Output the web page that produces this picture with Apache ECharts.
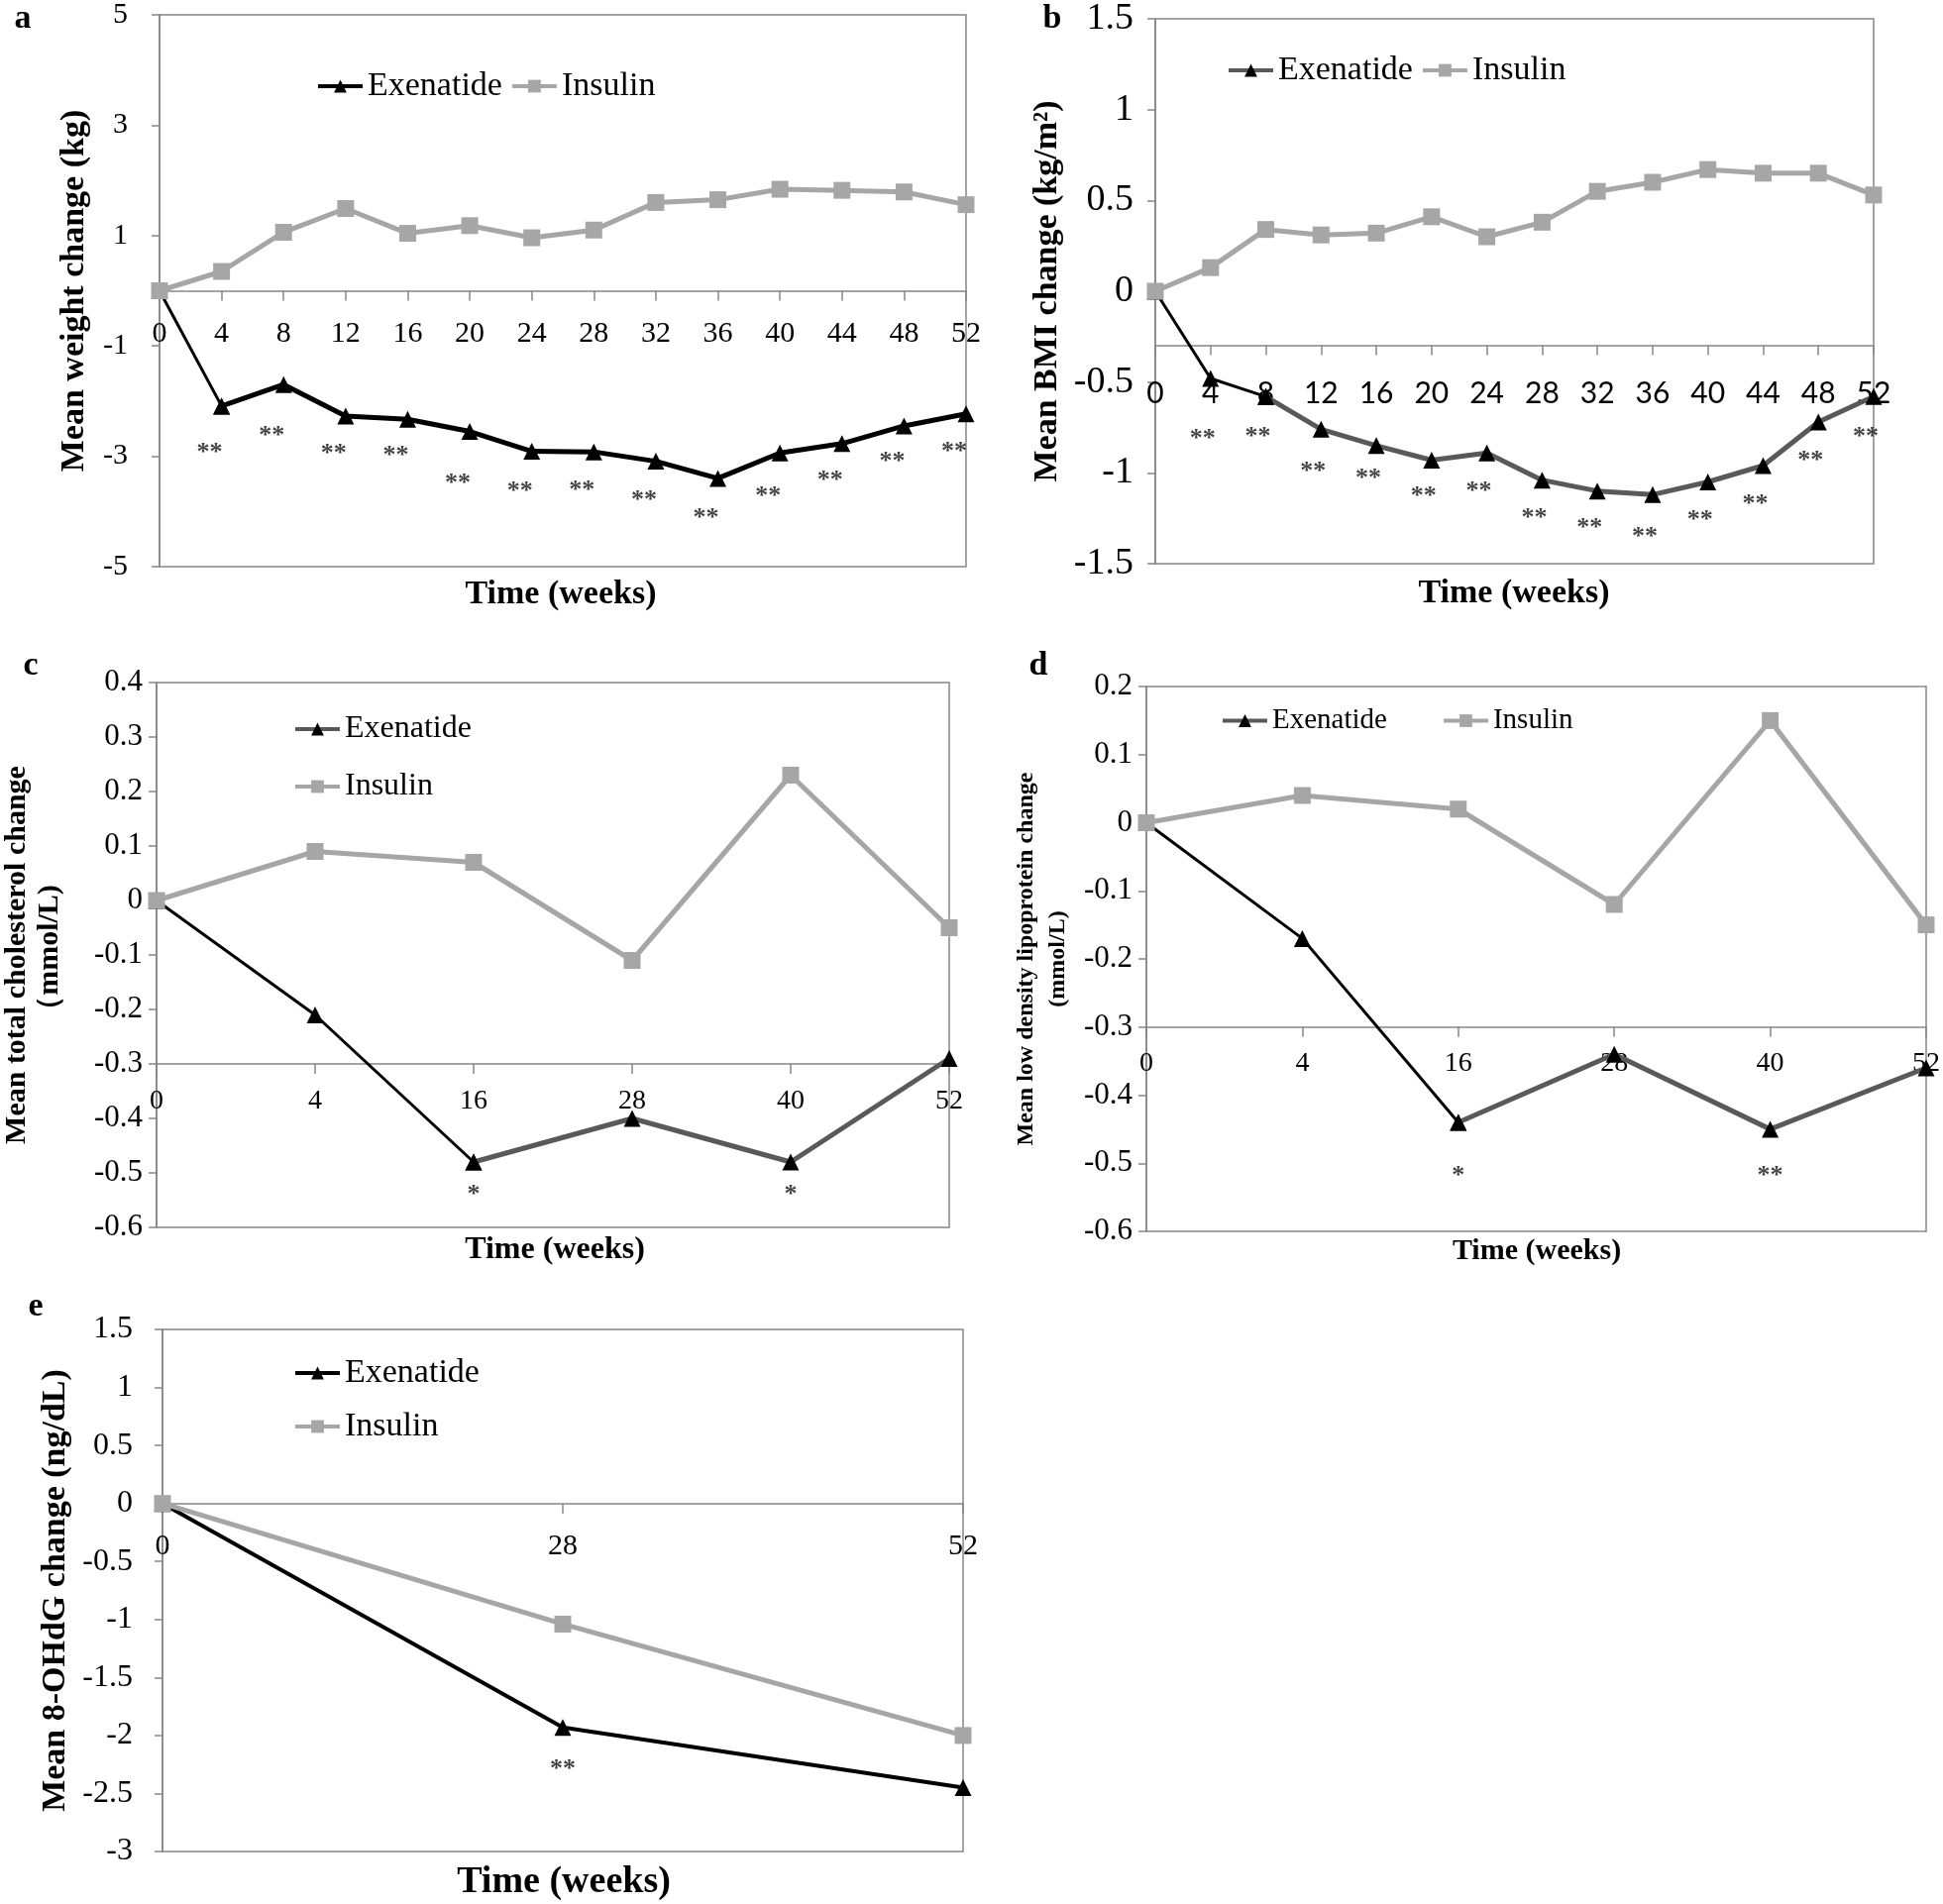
<!DOCTYPE html>
<html><head><meta charset="utf-8">
<script src="https://cdn.jsdelivr.net/npm/echarts@6/dist/echarts.min.js"></script>
<style>html,body{margin:0;padding:0;background:#fff}#c{width:1961px;height:1922px}</style>
</head><body><div id="c"></div>
<script>
// ---------- data ----------
const weeksAB = ['0','4','8','12','16','20','24','28','32','36','40','44','48','52'];
const weeksCD = ['0','4','16','28','40','52'];
const weeksE  = ['0','28','52'];

const weightExenatide = [0,-2.09,-1.70,-2.27,-2.33,-2.55,-2.91,-2.92,-3.09,-3.40,-2.94,-2.77,-2.45,-2.23];
const weightInsulin   = [0,0.35,1.06,1.49,1.04,1.18,0.96,1.10,1.60,1.65,1.84,1.82,1.79,1.56];
const weightSigText   = ['','**','**','**','**','**','**','**','**','**','**','**','**','**'];
const weightSigY      = [null,-2.84,-2.52,-2.85,-2.89,-3.39,-3.53,-3.51,-3.69,-4.01,-3.63,-3.33,-2.99,-2.82];

const bmiExenatide = [0,-0.48,-0.58,-0.76,-0.85,-0.93,-0.89,-1.04,-1.10,-1.12,-1.05,-0.96,-0.72,-0.58];
const bmiInsulin   = [0,0.13,0.34,0.31,0.32,0.41,0.30,0.38,0.55,0.60,0.67,0.65,0.65,0.53];
const bmiSigText   = ['','**','**','**','**','**','**','**','**','**','**','**','**','**'];
const bmiSigY      = [null,-0.78,-0.77,-0.96,-1.00,-1.10,-1.07,-1.22,-1.27,-1.32,-1.23,-1.14,-0.90,-0.77];

const tcExenatide = [0,-0.21,-0.48,-0.40,-0.48,-0.29];
const tcInsulin   = [0,0.09,0.07,-0.11,0.23,-0.05];
const tcSigText   = ['','','*','','*',''];
const tcSigY      = [null,null,-0.53,null,-0.53,null];

const ldlExenatide = [0,-0.17,-0.44,-0.34,-0.45,-0.36];
const ldlInsulin   = [0,0.04,0.02,-0.12,0.15,-0.15];
const ldlSigText   = ['','','*','','**',''];
const ldlSigY      = [null,null,-0.51,null,-0.51,null];

const ohdgExenatide = [0,-1.93,-2.45];
const ohdgInsulin   = [0,-1.04,-2.00];
const ohdgSigText   = ['','**',''];
const ohdgSigY      = [null,-2.24,null];

// y-axis ticks: [min, max, step]; value where the horizontal axis crosses
const yTicksA = [-5, 5, 2];
const yTicksB = [-1.5, 1.5, 0.5];
const yTicksC = [-0.6, 0.4, 0.1];
const yTicksD = [-0.6, 0.2, 0.1];
const yTicksE = [-3, 1.5, 0.5];
const xCross  = [0, -0.3, -0.3, -0.3, 0];

const yTitles = ['Mean weight change (kg)', 'Mean BMI change (kg/m\u00B2)',
  'Mean total cholesterol change\n\uFF08mmol/L)', 'Mean low density lipoprotein change\n(mmol/L)',
  'Mean 8-OHdG change (ng/dL)'];
const xTitle = 'Time (weeks)';
const panelLetters = ['a','b','c','d','e'];
const seriesNames = ['Exenatide','Insulin'];

// ---------- styling / layout ----------
const SERIF = '"Liberation Serif","Times New Roman",serif';
const SANS = 'Lato,"Open Sans",sans-serif';
const AXIS = '#868686';
const INS = '#a6a6a6';
const EXG = '#595959';

const panels = [
  {grid:{left:161,top:15,width:814,height:557}, cats:weeksAB, exe:weightExenatide, ins:weightInsulin, sigT:weightSigText, sigY:weightSigY, yt:yTicksA,
   exeColor:'#000', k:1, yLabelSize:30, yMargin:32, xLabelSize:30, xFont:SERIF, xMargin:29, nameSize:34, nameGap:66, nameLH:40,
   legend:{left:319,top:70,orient:'horizontal',gap:8,size:34}, xt:{x:566,y:602,size:34}, letter:{x:23,y:2}, sigOff:[-12,6]},
  {grid:{left:1166,top:18,width:725,height:551}, cats:weeksAB, exe:bmiExenatide, ins:bmiInsulin, sigT:bmiSigText, sigY:bmiSigY, yt:yTicksB,
   exeColor:EXG, k:2, yLabelSize:38, yMargin:22, xLabelSize:30, xFont:SANS, xMargin:34, nameSize:34, nameGap:89, nameLH:40,
   legend:{left:1238,top:54,orient:'horizontal',gap:8,size:34}, xt:{x:1528,y:601,size:34}, letter:{x:1062,y:2}, sigOff:[-8,6]},
  {grid:{left:158,top:689,width:800,height:550}, cats:weeksCD, exe:tcExenatide, ins:tcInsulin, sigT:tcSigText, sigY:tcSigY, yt:yTicksC,
   exeColor:EXG, k:2, yLabelSize:31, yMargin:14, xLabelSize:28, xFont:SERIF, xMargin:24, nameSize:30, nameGap:91, nameLH:33,
   legend:{left:296,top:720,orient:'vertical',gap:26,size:32}, xt:{x:560,y:1264,size:32}, letter:{x:31,y:655}, sigOff:[0,6]},
  {grid:{left:1157,top:693,width:788,height:550}, cats:weeksCD, exe:ldlExenatide, ins:ldlInsulin, sigT:ldlSigText, sigY:ldlSigY, yt:yTicksD,
   exeColor:EXG, k:2, yLabelSize:31, yMargin:14, xLabelSize:28, xFont:SERIF, xMargin:23, nameSize:24, nameGap:73, nameLH:32,
   legend:{left:1232,top:713,orient:'horizontal',gap:55,size:29}, xt:{x:1551,y:1265,size:30}, letter:{x:1048,y:655}, sigOff:[0,6]},
  {grid:{left:164,top:1342,width:808,height:527}, cats:weeksE, exe:ohdgExenatide, ins:ohdgInsulin, sigT:ohdgSigText, sigY:ohdgSigY, yt:yTicksE,
   exeColor:'#000', k:0, yLabelSize:32, yMargin:30, xLabelSize:30, xFont:SERIF, xMargin:28, nameSize:34, nameGap:88, nameLH:40,
   legend:{left:296,top:1369,orient:'vertical',gap:20,size:34}, xt:{x:569,y:1902,size:38}, letter:{x:36,y:1302}, sigOff:[0,6]}
];

const option = {animation:false, backgroundColor:'#fff', grid:[], xAxis:[], yAxis:[], series:[], legend:[], title:[]};

panels.forEach((p, i) => {
  option.grid.push(Object.assign({show:true, borderColor:AXIS, borderWidth:1.5, backgroundColor:'transparent', containLabel:false}, p.grid));
  const [yMin, yMax, yStep] = p.yt;
  const off = -p.grid.height * (xCross[i] - yMin) / (yMax - yMin);
  option.xAxis.push({
    type:'category', gridIndex:i, data:p.cats, boundaryGap:false, position:'bottom', offset:off,
    axisLine:{show:true, onZero:false, lineStyle:{color:AXIS, width:1.5}},
    axisTick:{show:true, length:10, lineStyle:{color:AXIS, width:1.5}},
    axisLabel:{interval:0, margin:p.xMargin, fontFamily:p.xFont, fontSize:p.xLabelSize, color:'#000'},
    splitLine:{show:false}
  });
  option.yAxis.push({
    type:'value', gridIndex:i, min:yMin, max:yMax, interval:yStep,
    axisLine:{show:true, lineStyle:{color:AXIS, width:1.5}},
    axisTick:{show:true, length:8, lineStyle:{color:AXIS, width:1.5}},
    axisLabel:{margin:p.yMargin, fontFamily:SERIF, fontSize:p.yLabelSize, color:'#000'},
    splitLine:{show:false},
    name:yTitles[i], nameLocation:'middle', nameGap:p.nameGap,
    nameTextStyle:{fontFamily:SERIF, fontWeight:'bold', fontSize:p.nameSize, color:'#000', lineHeight:p.nameLH}
  });
  if (p.k > 0) {
    option.series.push({
      name:'early'+i, type:'line', xAxisIndex:i, yAxisIndex:i,
      data:p.exe.map((v,j)=> j<=p.k ? v : null),
      symbol:'triangle', symbolSize:17, showSymbol:true,
      lineStyle:{color:'#000', width:3}, itemStyle:{color:'#000'}, z:2
    });
  }
  option.series.push({
    name:seriesNames[0], type:'line', xAxisIndex:i, yAxisIndex:i,
    data:p.exe.map((v,j)=> j>=p.k ? v : null),
    symbol:'triangle', symbolSize:17, showSymbol:true,
    lineStyle:{color:p.exeColor, width: i===4 ? 4 : 5}, itemStyle:{color:'#000'}, z:3
  });
  option.series.push({
    name:seriesNames[1], type:'line', xAxisIndex:i, yAxisIndex:i, data:p.ins,
    symbol:'rect', symbolSize:17, showSymbol:true,
    lineStyle:{color:INS, width:5}, itemStyle:{color:INS}, z:4
  });
  option.series.push({
    name:'sig'+i, type:'scatter', xAxisIndex:i, yAxisIndex:i,
    data:p.sigY.map((v,j)=> v===null ? null : [j, v, p.sigT[j]]),
    symbol:'circle', symbolSize:1, itemStyle:{color:'rgba(0,0,0,0)'},
    label:{show:true, position:'inside', offset:p.sigOff, formatter:q=>q.value[2],
      fontFamily:SERIF, fontSize:26, fontWeight:'bold', color:'#111', textBorderWidth:0},
    z:5
  });
  option.legend.push({
    orient:p.legend.orient, left:p.legend.left, top:p.legend.top, itemGap:p.legend.gap,
    itemWidth:45, itemHeight:16, padding:0, selectedMode:false,
    textStyle:{fontFamily:SERIF, fontSize:p.legend.size, color:'#000'},
    data:[
      {name:seriesNames[0], itemStyle:{color:'#000'}, lineStyle:{color:p.exeColor, width:4}},
      {name:seriesNames[1], itemStyle:{color:INS}, lineStyle:{color:INS, width:4}}
    ]
  });
  option.title.push({text:xTitle, left:p.xt.x, top:p.xt.y - p.xt.size/2 - 2, textAlign:'center', padding:0,
    textStyle:{fontFamily:SERIF, fontWeight:'bold', fontSize:p.xt.size, color:'#000'}});
  option.title.push({text:panelLetters[i], left:p.letter.x, top:p.letter.y, textAlign:'center', padding:0,
    textStyle:{fontFamily:SERIF, fontWeight:'bold', fontSize:34, color:'#000'}});
});

const chart = echarts.init(document.getElementById('c'), null, {renderer:'canvas'});
chart.setOption(option);
</script></body></html>
